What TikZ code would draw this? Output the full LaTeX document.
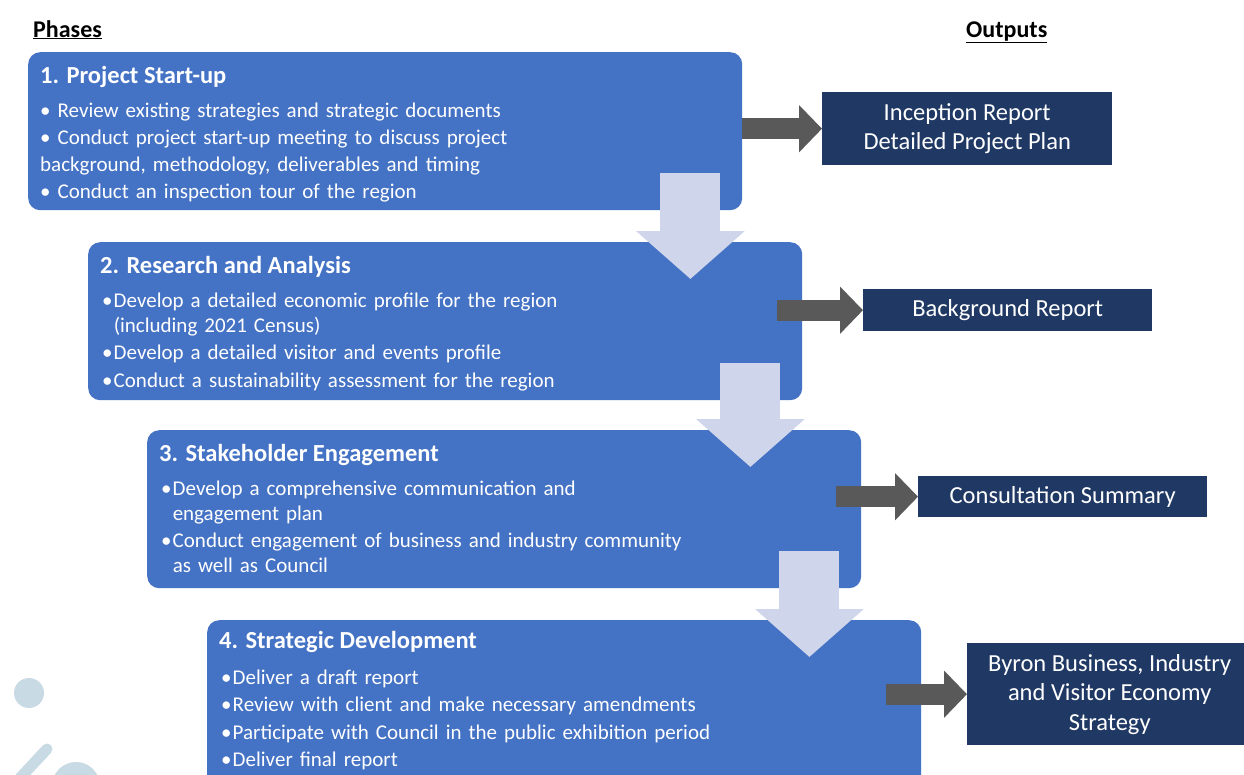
\documentclass[tikz,border=0pt]{standalone}
\usepackage{fontspec}
\setmainfont{Carlito}
\usetikzlibrary{arrows.meta,calc}
\definecolor{phaseBlue}{HTML}{4472C4}
\definecolor{outNavy}{HTML}{1F3864}
\definecolor{flowGray}{HTML}{595959}
\definecolor{stepLav}{HTML}{CFD5EA}
\definecolor{markBlue}{HTML}{C8DAE3}
\newcommand{\bul}{\hangindent=0.55em\hangafter=1\noindent\makebox[0.55em][l]{•}}
\tikzset{
  phaseBox/.style={rectangle,rounded corners=12pt,fill=phaseBlue,anchor=north west,inner sep=0pt,minimum width=714pt,minimum height=158pt},
  phaseTitle/.style={anchor=base west,inner sep=0pt,text=white,font=\bfseries\fontsize{24.5}{29}\selectfont},
  phaseText/.style={anchor=base west,inner sep=0pt,text=white,align=left,text width=700pt,font=\fontsize{21}{25}\selectfont\setlength{\parskip}{2.5pt}},
  outBox/.style={rectangle,fill=outNavy,text=white,anchor=north west,inner sep=0pt,align=center,font=\fontsize{24.5}{29.5}\selectfont},
  headText/.style={anchor=base west,inner sep=0pt,font=\bfseries\fontsize{24}{29}\selectfont},
  flowArrow/.style={draw=flowGray,line width=21pt,-{Triangle[length=23pt,width=46pt]}},
  stepArrow/.style={draw=stepLav,line width=60pt,-{Triangle[length=48pt,width=106pt]}}
}

\begin{document}
\begin{tikzpicture}[x=1pt,y=-1pt]
  \clip (0,0) rectangle (1244,774);
  \fill[white] (0,0) rectangle (1244,774);
  \fill[markBlue] (29,693) circle (15pt);
  \draw[markBlue,line width=11pt,line cap=round] (20,778) -- (47,749);
  \fill[markBlue] (76,786) circle (24pt);

  \node[headText] (hphase) at (33,37) {\underline{Phases}};
  \node[headText] (hout) at (966,37) {\underline{Outputs}};

  \node[phaseBox] (p1) at (28,52) {};
  \node[phaseBox] (p2) at (88,242) {};
  \node[phaseBox] (p3) at (147,430) {};
  \node[phaseBox,minimum height=180pt] (p4) at (207,620) {};

  \node[phaseTitle] (t1) at ([shift={(12,31)}]p1.north west) {1. Project Start-up};
  \node[phaseText,font=\fontsize{21}{27}\selectfont] (b1) at ([shift={(12,65)}]p1.north west)
    {• Review existing strategies and strategic documents\\
     • Conduct project start-up meeting to discuss project\\
     background, methodology, deliverables and timing\\
     • Conduct an inspection tour of the region};

  \node[phaseTitle] (t2) at ([shift={(12,31)}]p2.north west) {2. Research and Analysis};
  \node[phaseText] (b2) at ([shift={(14,65)}]p2.north west)
    {\bul Develop a detailed economic profile for the region\newline(including 2021 Census)\par
     \bul Develop a detailed visitor and events profile\par
     \bul Conduct a sustainability assessment for the region\par};

  \node[phaseTitle] (t3) at ([shift={(12,31)}]p3.north west) {3. Stakeholder Engagement};
  \node[phaseText] (b3) at ([shift={(14,65)}]p3.north west)
    {\bul Develop a comprehensive communication and\newline engagement plan\par
     \bul Conduct engagement of business and industry community\newline as well as Council\par};

  \node[phaseTitle] (t4) at ([shift={(12,28)}]p4.north west) {4. Strategic Development};
  \node[phaseText] (b4) at ([shift={(14,64)}]p4.north west)
    {\bul Deliver a draft report\par
     \bul Review with client and make necessary amendments\par
     \bul Participate with Council in the public exhibition period\par
     \bul Deliver final report\par};

  \node[outBox,minimum width=290pt,minimum height=73pt] (o1) at (822,92) {Inception Report\\Detailed Project Plan};
  \node[outBox,minimum width=289pt,minimum height=42pt] (o2) at (863,289) {Background Report};
  \node[outBox,minimum width=289pt,minimum height=41pt] (o3) at (918,476) {Consultation Summary};
  \node[outBox,minimum width=285pt,minimum height=102pt] (o4) at (967,643) {Byron Business, Industry\\and Visitor Economy\\Strategy};

  \coordinate (g1) at (p1.east |- o1.west);
  \coordinate (g2) at ($(p2.east |- o2.west)+(-25,0)$);
  \coordinate (g3) at ($(p3.east |- o3.west)+(-25,0)$);
  \coordinate (g4) at ($(p4.east |- o4.west)+(-35,0)$);
  \draw[flowArrow] (g1) -- (o1.west);
  \draw[flowArrow] (g2) -- (o2.west);
  \draw[flowArrow] (g3) -- (o3.west);
  \draw[flowArrow] (g4) -- (o4.west);

  \coordinate (d1) at ($(p1.south east)+(-52,-37)$);
  \coordinate (e1) at ($(d1 |- p2.north)+(0,37)$);
  \coordinate (d2) at ($(p2.south east)+(-52,-37)$);
  \coordinate (e2) at ($(d2 |- p3.north)+(0,37)$);
  \coordinate (d3) at ($(p3.south east)+(-52,-37)$);
  \coordinate (e3) at ($(d3 |- p4.north)+(0,37)$);
  \draw[stepArrow] (d1) -- (e1);
  \draw[stepArrow] (d2) -- (e2);
  \draw[stepArrow] (d3) -- (e3);
\end{tikzpicture}
\end{document}
